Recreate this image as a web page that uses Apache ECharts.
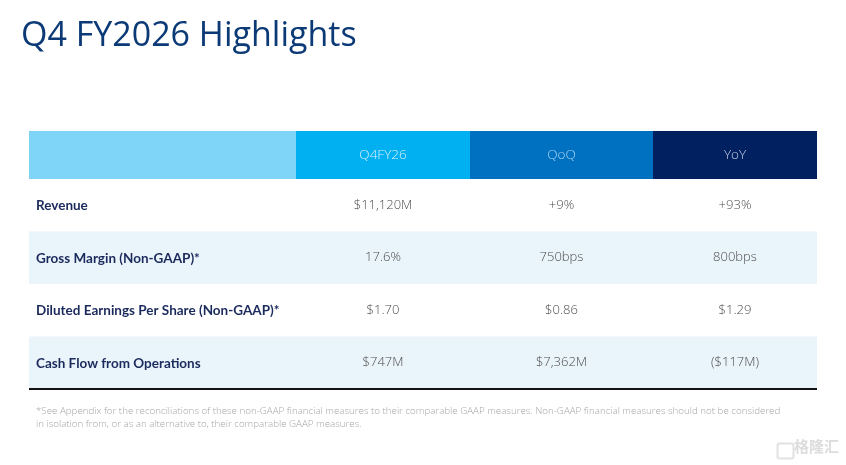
<!DOCTYPE html>
<html>
<head>
<meta charset="utf-8">
<script src="https://cdn.jsdelivr.net/npm/echarts@6/dist/echarts.min.js"></script>
<style>
html,body{margin:0;padding:0;background:#fff;}
#chart{width:846px;height:465px;}
</style>
</head>
<body>
<div id="chart"></div>
<script>
// ---- data ----
const titleText = 'Q4 FY2026 Highlights';
const columns = ['Q4FY26', 'QoQ', 'YoY'];
const metrics = ['Revenue', 'Gross Margin (Non-GAAP)*', 'Diluted Earnings Per Share (Non-GAAP)*', 'Cash Flow from Operations'];
const q4fy26 = ['$11,120M', '17.6%', '$1.70', '$747M'];
const qoq = ['+9%', '750bps', '$0.86', '$7,362M'];
const yoy = ['+93%', '800bps', '$1.29', '($117M)'];
const footnote = '*See Appendix for the reconciliations of these non-GAAP financial measures to their comparable GAAP measures. Non-GAAP financial measures should not be considered\nin isolation from, or as an alternative to, their comparable GAAP measures.';
const watermark = '格隆汇';

// ---- styles / layout ----
const colWeights = [267, 174, 183, 164];
const headerFills = ['#7fd5f7', '#00b0f0', '#0070c0', '#002060'];
const headerTextColors = ['#ffffff', '#d9f1fc', '#a9d6f3', '#c9cfe2'];
const headerHeight = 48;
const valueFont = '"Open Sans", sans-serif';
const labelFont = 'Lato, "Open Sans", sans-serif';

function colEdges(cs) {
  const total = colWeights.reduce((a, b) => a + b, 0);
  const edges = [cs.x];
  let acc = 0;
  colWeights.forEach(w => { acc += w; edges.push(cs.x + cs.width * acc / total); });
  return edges;
}

const valueCols = [q4fy26, qoq, yoy];

function renderRow(params, api) {
  const r = api.value(1);
  const cs = params.coordSys;
  const p = api.coord([0, r]);
  const bandH = api.size([0, 1])[1];
  const y0 = p[1] - bandH / 2;
  const edges = colEdges(cs);
  const children = [];
  children.push({
    type: 'rect',
    shape: { x: cs.x, y: y0, width: cs.width, height: bandH },
    style: { fill: r % 2 === 1 ? '#eaf4fb' : '#ffffff' }
  });
  children.push({
    type: 'text',
    style: {
      x: cs.x + 7, y: p[1] + 0.5, text: metrics[r], align: 'left', verticalAlign: 'middle',
      fill: '#1b2a5c', font: 'bold 13.5px ' + labelFont
    }
  });
  for (let c = 0; c < 3; c++) {
    const cx = (edges[c + 1] + edges[c + 2]) / 2;
    children.push({
      type: 'text',
      style: {
        x: cx, y: p[1], text: valueCols[c][r], align: 'center', verticalAlign: 'middle',
        fill: '#4d4d4d', font: '300 13px ' + valueFont
      }
    });
  }
  if (r === metrics.length - 1) {
    children.push({
      type: 'line',
      shape: { x1: cs.x, y1: y0 + bandH, x2: cs.x + cs.width, y2: y0 + bandH },
      style: { stroke: '#111111', lineWidth: 2 }
    });
  }
  return { type: 'group', children: children };
}

function renderHeader(params, api) {
  const cs = params.coordSys;
  const p = api.coord([0, 0]);
  const bandH = api.size([0, 1])[1];
  const yTop = p[1] - bandH / 2 - headerHeight;
  const edges = colEdges(cs);
  const children = [];
  for (let c = 0; c < 4; c++) {
    children.push({
      type: 'rect',
      shape: { x: edges[c], y: yTop, width: edges[c + 1] - edges[c] + (c < 3 ? 0.5 : 0), height: headerHeight },
      style: { fill: headerFills[c] }
    });
    if (c > 0) {
      children.push({
        type: 'text',
        style: {
          x: (edges[c] + edges[c + 1]) / 2, y: yTop + headerHeight / 2, text: columns[c - 1],
          align: 'center', verticalAlign: 'middle', fill: headerTextColors[c],
          font: '300 13.5px ' + valueFont
        }
      });
    }
  }
  return { type: 'group', children: children };
}

const chart = echarts.init(document.getElementById('chart'), null, { renderer: 'canvas' });
chart.setOption({
  backgroundColor: '#ffffff',
  animation: false,
  title: {
    text: titleText, left: 16, top: 14,
    textStyle: { color: '#0b3a76', fontSize: 34, fontWeight: 'normal', fontFamily: '"Open Sans", sans-serif' }
  },
  grid: { left: 29, right: 29, top: 179, height: 210 },
  xAxis: { type: 'category', data: ['Metric'].concat(columns), show: false },
  yAxis: { type: 'category', data: metrics, inverse: true, show: false },
  series: [
    {
      type: 'custom', renderItem: renderRow,
      data: metrics.map((m, i) => [0, i]),
      encode: { x: 0, y: 1 }, silent: true
    },
    {
      type: 'custom', renderItem: renderHeader,
      data: [[0, 0]],
      encode: { x: 0, y: 1 }, silent: true
    }
  ],
  graphic: [
    {
      type: 'text', left: 36, top: 405,
      style: { text: footnote, fill: '#a6a6a6', font: '300 9.75px ' + valueFont, lineHeight: 13 }
    },
    {
      type: 'rect', left: 775, top: 441, shape: { width: 16, height: 15, r: 2 },
      style: { fill: 'none', stroke: '#e2e2e2', lineWidth: 2 }
    },
    {
      type: 'text', left: 794, top: 439,
      style: { text: watermark, fill: '#dcdcdc', font: 'bold 15px "Noto Sans CJK SC", sans-serif' }
    }
  ]
});
</script>
</body>
</html>
